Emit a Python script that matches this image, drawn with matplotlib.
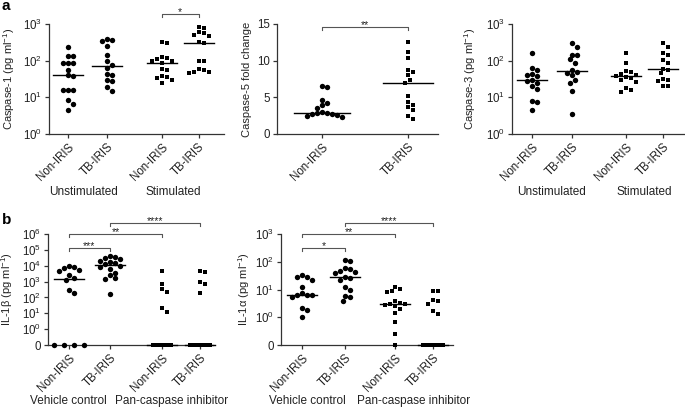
import numpy as np
import matplotlib
matplotlib.use('Agg')
from matplotlib import pyplot as plt
from matplotlib import transforms
from matplotlib.ticker import NullLocator

plt.rcParams['font.family'] = ['Liberation Sans', 'DejaVu Sans']
plt.rcParams['mathtext.fontset'] = 'custom'
plt.rcParams['mathtext.rm'] = 'Liberation Sans'
plt.rcParams['mathtext.it'] = 'Liberation Sans:italic'
plt.rcParams['mathtext.default'] = 'regular'

W, H = 685, 407
INK = '#222222'

# ---- data ----
cat_labels = ['Non-IRIS', 'TB-IRIS', 'Non-IRIS', 'TB-IRIS']

casp1_unstim_non = [240, 135, 135, 85, 85, 85, 55, 40, 38, 16, 16, 16, 8.5, 6.5, 4.4]
casp1_unstim_tb = [400, 370, 340, 250, 145, 95, 75, 65, 42, 40, 30, 28, 19, 14.5]
casp1_stim_non = [320, 310, 125, 115, 110, 100, 95, 88, 60, 55, 38, 35, 33, 30, 24]
casp1_stim_tb = [850, 780, 620, 560, 500, 470, 330, 310, 100, 95, 60, 55, 50, 50, 45]

casp5_non = [6.6, 6.4, 4.7, 4.2, 3.9, 3.6, 2.95, 2.85, 2.8, 2.75, 2.7, 2.6, 2.4, 2.3]
casp5_tb = [12.6, 11.2, 10.3, 8.75, 8.5, 8.0, 7.4, 7.0, 5.2, 4.4, 4.0, 3.7, 3.3, 2.5, 2.1]

casp3_unstim_non = [160, 62, 56, 44, 41, 38, 30, 28, 25, 20, 17, 7.7, 7.5, 4.6]
casp3_unstim_tb = [310, 240, 145, 140, 110, 85, 55, 48, 45, 40, 30, 25, 14.5, 3.5]
casp3_stim_non = [165, 85, 52, 48, 44, 40, 38, 36, 34, 30, 27, 18, 16, 14]
casp3_stim_tb = [300, 240, 160, 140, 105, 85, 60, 55, 45, 32, 30, 28, 21, 20]

il1b_veh_non = [9000, 8000, 7000, 5000, 4500, 2500, 1600, 1300, 300, 200, 0, 0, 0, 0]
il1b_veh_tb = [40000, 35000, 32000, 28000, 20000, 16000, 14000, 12000, 10000, 8000,
               6000, 3500, 2500, 1600, 1400, 160]
il1b_pan_non = [4500, 750, 320, 230, 22, 12.5, 0, 0, 0, 0, 0, 0, 0, 0]
il1b_pan_tb = [4500, 4200, 900, 700, 200, 0, 0, 0, 0, 0, 0, 0, 0, 0]

il1a_veh_non = [32, 29, 28, 22, 12.5, 7.5, 6.6, 6.5, 6.3, 5.5, 2.2, 1.9, 1.0]
il1a_veh_tb = [115, 110, 60, 55, 45, 42, 40, 28, 27, 22, 12.5, 10, 5.7, 5.4, 3.8]
il1a_pan_non = [12.5, 10.5, 8.7, 8.2, 3.8, 3.2, 3.0, 2.9, 2.8, 2.5, 2.0, 1.4, 0.65, 0.24, 0]
il1a_pan_tb = [9, 8.7, 4.2, 4.0, 3.1, 1.65, 1.35, 0, 0, 0, 0, 0, 0, 0, 0]

log_ticks_3 = [1, 10, 100, 1000]
log_labels_3 = ['10$^{0}$', '10$^{1}$', '10$^{2}$', '10$^{3}$']
il1b_ticks = [0.1, 1, 10, 100, 1e3, 1e4, 1e5, 1e6]
il1b_labels = ['0'] + ['10$^{%d}$' % i for i in range(7)]
il1a_ticks = [0.1, 1, 10, 100, 1000]
il1a_labels = ['0'] + ['10$^{%d}$' % i for i in range(4)]

fig = plt.figure(figsize=(6.85, 4.07), dpi=100)


def make_ax(l, t, r, b):
    return fig.add_axes([l / W, 1 - b / H, (r - l) / W, (b - t) / H])


def style(ax, pos, xlim):
    for s in ['top', 'right']:
        ax.spines[s].set_visible(False)
    for s in ['left', 'bottom']:
        ax.spines[s].set_color('#333333')
        ax.spines[s].set_linewidth(0.9)
    ax.tick_params(length=3, width=0.9, color='#333333', labelsize=8.3,
                   labelcolor=INK, pad=2)
    ax.set_xlim(*xlim)
    ax.set_xticks(pos)
    ax.set_xticklabels(cat_labels[:len(pos)], rotation=45, ha='right',
                       rotation_mode='anchor')


def swarm_offsets(ax, xc, v, d, w):
    pts = ax.transData.transform(np.column_stack([np.full(len(v), xc), v]))
    ys = pts[:, 1]
    order = np.argsort(-ys)
    placed = []
    offs = np.zeros(len(v))
    for i in order:
        cands = [0.0]
        k = 1
        while k * d / 2 <= w + 1e-6:
            cands += [k * d / 2, -k * d / 2]
            k += 1
        best, best_dist = 0.0, -1
        for c in cands:
            if placed:
                dist = min(np.hypot(c - px, ys[i] - py) for px, py in placed)
            else:
                dist = 1e9
            if dist >= d:
                best = c
                break
            if dist > best_dist:
                best, best_dist = c, dist
        placed.append((best, ys[i]))
        offs[i] = best
    return offs


def draw_group(ax, xc, vals, marker, half_px=15, w_px=15, floor=None, zero_w=20):
    v = np.array(vals, float)
    ppu = ax.transData.transform((1, 0))[0] - ax.transData.transform((0, 0))[0]
    offs = np.zeros(len(v))
    if floor is not None:
        zero = v <= 0
        v = np.where(zero, floor, v)
    else:
        zero = np.zeros(len(v), bool)
    nz = ~zero
    offs[nz] = swarm_offsets(ax, xc, v[nz], 5.0, w_px)
    nzero = zero.sum()
    if nzero > 1:
        offs[zero] = np.linspace(-zero_w / 2, zero_w / 2, nzero)
    ax.scatter(xc + offs / ppu, v, marker=marker, s=15 if marker == 'o' else 12,
               color='black', linewidths=0, clip_on=False, zorder=3)
    ax.plot([xc - half_px / ppu, xc + half_px / ppu], [np.median(v)] * 2,
            color='black', lw=1.0, zorder=4, clip_on=False)


def bracket(ax, x1, x2, yf, text, leg_px=3.3):
    tr = transforms.blended_transform_factory(ax.transData, ax.transAxes)
    h = ax.get_position().height * H
    dy = leg_px / h
    ax.plot([x1, x1, x2, x2], [yf - dy, yf, yf, yf - dy], transform=tr,
            color='#555555', lw=0.8, clip_on=False)
    ax.text((x1 + x2) / 2, yf - 1.2 / h, text, transform=tr, ha='center',
            va='baseline', fontsize=7.5, color=INK)


def ylabel(ax, text, xf):
    ax.set_ylabel(text, fontsize=8, color=INK)
    ax.yaxis.set_label_coords(xf, 0.5)


# ---- a: caspase-1 ----
pos1 = [0, 1, 2.4, 3.35]
ax1 = make_ax(49, 24, 224, 134)
ax1.set_yscale('log')
ax1.set_ylim(1, 1000)
ax1.set_yticks(log_ticks_3)
ax1.set_yticklabels(log_labels_3)
ax1.yaxis.set_minor_locator(NullLocator())
style(ax1, pos1, (-0.49, 4.0))
for xc, vals, m in zip(pos1, [casp1_unstim_non, casp1_unstim_tb, casp1_stim_non, casp1_stim_tb],
                       ['o', 'o', 's', 's']):
    draw_group(ax1, xc, vals, m)
bracket(ax1, pos1[2], pos1[3], 1.09, '*')
ylabel(ax1, 'Caspase-1 (pg ml$^{-1}$)', -0.183)

# ---- a: caspase-5 ----
pos2 = [0, 1]
ax2 = make_ax(277, 24, 438, 134)
ax2.set_ylim(0, 15)
ax2.set_yticks([0, 5, 10, 15])
style(ax2, pos2, (-0.52, 1.35))
draw_group(ax2, 0, casp5_non, 'o', half_px=28, w_px=27)
draw_group(ax2, 1, casp5_tb, 's', half_px=25, w_px=15)
bracket(ax2, 0, 1, 0.973, '**')
ylabel(ax2, 'Caspase-5 fold change', -0.158)

# ---- a: caspase-3 ----
pos3 = [0, 1, 2.35, 3.28]
ax3 = make_ax(512, 24, 684, 134)
ax3.set_yscale('log')
ax3.set_ylim(1, 1000)
ax3.set_yticks(log_ticks_3)
ax3.set_yticklabels(log_labels_3)
ax3.yaxis.set_minor_locator(NullLocator())
style(ax3, pos3, (-0.5, 3.8))
for xc, vals, m in zip(pos3, [casp3_unstim_non, casp3_unstim_tb, casp3_stim_non, casp3_stim_tb],
                       ['o', 'o', 's', 's']):
    draw_group(ax3, xc, vals, m)
ylabel(ax3, 'Caspase-3 (pg ml$^{-1}$)', -0.2)

# ---- b: IL-1beta ----
pos4 = [0, 1, 2.27, 3.2]
ax4 = make_ax(48, 234, 213, 345)
ax4.set_yscale('log')
ax4.set_ylim(0.1, 1e6)
ax4.set_yticks(il1b_ticks)
ax4.set_yticklabels(il1b_labels)
ax4.yaxis.set_minor_locator(NullLocator())
style(ax4, pos4, (-0.51, 3.51))
for xc, vals, m, zw in zip(pos4, [il1b_veh_non, il1b_veh_tb, il1b_pan_non, il1b_pan_tb],
                           ['o', 'o', 's', 's'], [30, 30, 18, 20]):
    draw_group(ax4, xc, vals, m, floor=0.1, zero_w=zw)
bracket(ax4, pos4[0], pos4[1], 0.874, '***')
bracket(ax4, pos4[0], pos4[2], 1.0, '**')
bracket(ax4, pos4[1], pos4[3], 1.10, '****')
ylabel(ax4, 'IL-1β (pg ml$^{-1}$)', -0.197)

# ---- b: IL-1alpha ----
pos5 = [0, 1, 2.16, 3.05]
ax5 = make_ax(281, 234, 453, 345)
ax5.set_yscale('log')
ax5.set_ylim(0.1, 1000)
ax5.set_yticks(il1a_ticks)
ax5.set_yticklabels(il1a_labels)
ax5.yaxis.set_minor_locator(NullLocator())
style(ax5, pos5, (-0.49, 3.51))
for xc, vals, m, zw in zip(pos5, [il1a_veh_non, il1a_veh_tb, il1a_pan_non, il1a_pan_tb],
                           ['o', 'o', 's', 's'], [20, 20, 18, 20]):
    draw_group(ax5, xc, vals, m, floor=0.1, zero_w=zw)
bracket(ax5, pos5[0], pos5[1], 0.874, '*')
bracket(ax5, pos5[0], pos5[2], 1.0, '**')
bracket(ax5, pos5[1], pos5[3], 1.10, '****')
ylabel(ax5, 'IL-1α (pg ml$^{-1}$)', -0.166)

# ---- group labels and panel letters ----
for x, y, t in [(83, 192, 'Unstimulated'), (173, 192, 'Stimulated'),
                (552, 192, 'Unstimulated'), (644, 192, 'Stimulated'),
                (68, 401, 'Vehicle control'), (172, 401, 'Pan-caspase inhibitor'),
                (307, 401, 'Vehicle control'), (414, 401, 'Pan-caspase inhibitor')]:
    fig.text(x / W, 1 - y / H, t, ha='center', va='center', fontsize=8.5, color=INK)

fig.text(2 / W, 1 - 6 / H, 'a', ha='left', va='center', fontsize=11,
         fontweight='bold', color='black')
fig.text(2 / W, 1 - 220 / H, 'b', ha='left', va='center', fontsize=11,
         fontweight='bold', color='black')

fig.savefig('out.png', dpi=100)
